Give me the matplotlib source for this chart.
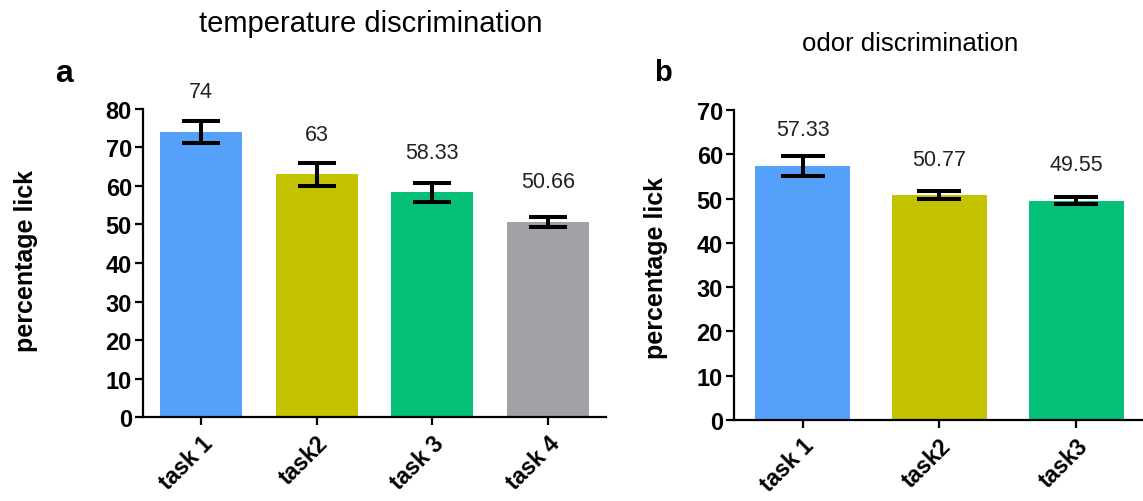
import matplotlib
matplotlib.use("Agg")
import matplotlib.pyplot as plt

plt.rcParams['font.family'] = ['Liberation Sans', 'DejaVu Sans']

# temperature discrimination
temp_tasks = ["task 1", "task2", "task 3", "task 4"]
temp_means = [74, 63, 58.33, 50.66]
temp_sem = [2.8, 3.0, 2.4, 1.35]
temp_labels = ["74", "63", "58.33", "50.66"]

# odor discrimination
odor_tasks = ["task 1", "task2", "task3"]
odor_means = [57.33, 50.77, 49.55]
odor_sem = [2.25, 0.95, 0.75]
odor_labels = ["57.33", "50.77", "49.55"]

colors = ["#55A0FA", "#C3C300", "#05C078", "#A2A1A6"]


def draw_panel(ax, tasks, means, sem, labels, ymax, width, capsize, label_off):
    x = range(len(tasks))
    ax.bar(x, means, width=width, color=colors[:len(tasks)], zorder=2)
    ax.errorbar(x, means, yerr=sem, fmt='none', ecolor='black',
                elinewidth=2.9, capsize=capsize, capthick=2.9, zorder=3)
    for xi, m, t in zip(x, means, labels):
        ax.annotate(t, (xi, m), xytext=(0, label_off), textcoords='offset points',
                    ha='center', va='center', fontsize=15.5, color='#222222')
    ax.set_xlim(-0.5, len(tasks) - 0.5)
    ax.set_ylim(0, ymax)
    ax.set_yticks(range(0, ymax + 1, 10))
    ax.set_xticks(list(x))
    ax.set_xticklabels(tasks, rotation=45, ha='right', rotation_mode='anchor',
                       fontsize=16.5, fontweight='bold')
    for lab in ax.get_yticklabels():
        lab.set_fontsize(17)
        lab.set_fontweight('bold')
    for s in ['top', 'right']:
        ax.spines[s].set_visible(False)
    for s in ['left', 'bottom']:
        ax.spines[s].set_linewidth(1.6)
    ax.tick_params(axis='both', direction='out', length=6, width=1.6, pad=2)
    ax.tick_params(axis='x', pad=4)


fig = plt.figure(figsize=(11.43, 5.02), dpi=100)
ax1 = fig.add_axes([0.1251, 0.1673, 0.4051, 0.6136])
ax2 = fig.add_axes([0.6422, 0.1614, 0.3595, 0.6175])

draw_panel(ax1, temp_tasks, temp_means, temp_sem, temp_labels, 80, 0.71, 13.7, 29)
draw_panel(ax2, odor_tasks, odor_means, odor_sem, odor_labels, 70, 0.69, 16, 26)

fig.text(0.023, 0.48, "percentage lick", rotation=90, ha='center', va='center',
         fontsize=18, fontweight='bold')
fig.text(0.574, 0.466, "percentage lick", rotation=90, ha='center', va='center',
         fontsize=18, fontweight='bold')

fig.text(0.3246, 0.952, "temperature discrimination", ha='center', va='center', fontsize=21)
fig.text(0.796, 0.912, "odor discrimination", ha='center', va='center', fontsize=18.5)

fig.text(0.056, 0.852, "a", ha='center', va='center', fontsize=23, fontweight='bold')
fig.text(0.580, 0.855, "b", ha='center', va='center', fontsize=21, fontweight='bold')

fig.savefig("out.png", dpi=100)
